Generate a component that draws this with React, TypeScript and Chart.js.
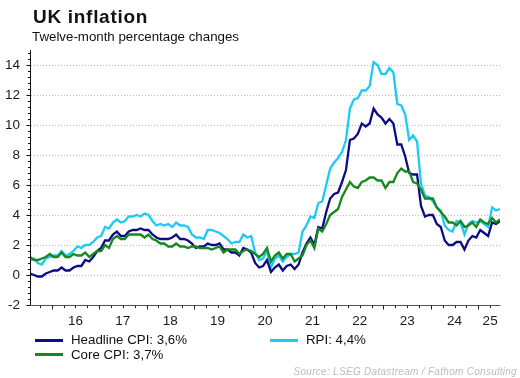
import React, { useEffect, useRef } from 'react';
import { Chart, registerables } from 'chart.js';

Chart.register(...registerables);

const FONT = '"Liberation Sans", Arial, Helvetica, sans-serif';

// Monthly data, July 2015 .. June 2025 (twelve-month % change)
const startYear = 2015;
const startMonth = 7;

const headlineCpi = [
  0.1, 0.0, -0.1, -0.1, 0.1, 0.2,
  0.3, 0.3, 0.5, 0.3, 0.3, 0.5, 0.6, 0.6, 1.0, 0.9, 1.2, 1.6,
  1.8, 2.3, 2.3, 2.7, 2.9, 2.6, 2.6, 2.9, 3.0, 3.0, 3.1, 3.0,
  3.0, 2.7, 2.5, 2.4, 2.4, 2.4, 2.5, 2.7, 2.4, 2.4, 2.3, 2.1,
  1.8, 1.9, 1.9, 2.1, 2.0, 2.0, 2.1, 1.7, 1.7, 1.5, 1.5, 1.3,
  1.8, 1.7, 1.5, 0.8, 0.5, 0.6, 1.0, 0.2, 0.5, 0.7, 0.3, 0.6,
  0.7, 0.4, 0.7, 1.5, 2.1, 2.5, 2.0, 3.2, 3.1, 4.2, 5.1, 5.4,
  5.5, 6.2, 7.0, 9.0, 9.1, 9.4, 10.1, 9.9, 10.1, 11.1, 10.7, 10.5,
  10.1, 10.4, 10.1, 8.7, 8.7, 7.9, 6.8, 6.7, 6.7, 4.6, 3.9, 4.0,
  4.0, 3.4, 3.2, 2.3, 2.0, 2.0, 2.2, 2.2, 1.7, 2.3, 2.6, 2.5,
  3.0, 2.8, 2.6, 3.5, 3.4, 3.6,
];

const rpi = [
  1.0, 1.1, 0.8, 0.7, 1.1, 1.2,
  1.3, 1.3, 1.6, 1.3, 1.4, 1.6, 1.9, 1.8, 2.0, 2.0, 2.2, 2.5,
  2.6, 3.2, 3.1, 3.5, 3.7, 3.5, 3.6, 3.9, 3.9, 4.0, 3.9, 4.1,
  4.0, 3.6, 3.3, 3.4, 3.3, 3.4, 3.2, 3.5, 3.3, 3.3, 3.2, 2.7,
  2.5, 2.5, 2.4, 3.0, 3.0, 2.9, 2.8, 2.6, 2.4, 2.1, 2.2, 2.2,
  2.7, 2.5, 2.6, 1.5, 1.0, 1.1, 1.6, 0.5, 1.1, 1.3, 0.9, 1.2,
  1.4, 1.4, 1.5, 2.9, 3.3, 3.9, 3.8, 4.8, 4.9, 6.0, 7.1, 7.5,
  7.8, 8.2, 9.0, 11.1, 11.7, 11.8, 12.3, 12.3, 12.6, 14.2, 14.0, 13.4,
  13.4, 13.8, 13.5, 11.4, 11.3, 10.7, 9.0, 9.3, 8.9, 6.1, 5.3, 5.2,
  4.9, 4.5, 4.3, 3.3, 3.0, 2.9, 3.6, 3.5, 2.7, 3.4, 3.6, 3.5,
  3.6, 3.4, 3.2, 4.5, 4.3, 4.4,
];

const coreCpi = [
  1.2, 1.0, 1.0, 1.1, 1.2, 1.4,
  1.2, 1.2, 1.5, 1.2, 1.2, 1.4, 1.3, 1.3, 1.5, 1.2, 1.4, 1.6,
  1.6, 2.0, 1.8, 2.4, 2.6, 2.4, 2.4, 2.7, 2.7, 2.7, 2.7, 2.5,
  2.7, 2.4, 2.3, 2.1, 2.1, 1.9, 1.9, 2.1, 1.9, 1.9, 1.8, 1.9,
  1.9, 1.8, 1.8, 1.8, 1.7, 1.8, 1.9, 1.5, 1.7, 1.7, 1.7, 1.4,
  1.6, 1.7, 1.6, 1.4, 1.2, 1.4, 1.8, 0.9, 1.3, 1.5, 1.1, 1.4,
  1.4, 0.9, 1.1, 1.3, 2.0, 2.3, 1.8, 3.1, 2.9, 3.4, 4.0, 4.2,
  4.4, 5.2, 5.7, 6.2, 5.9, 5.8, 6.2, 6.3, 6.5, 6.5, 6.3, 6.3,
  5.8, 6.2, 6.2, 6.8, 7.1, 6.9, 6.9, 6.2, 6.1, 5.7, 5.1, 5.1,
  5.1, 4.5, 4.2, 3.9, 3.5, 3.5, 3.3, 3.6, 3.2, 3.3, 3.5, 3.2,
  3.7, 3.5, 3.4, 3.8, 3.5, 3.7,
];

const yearLabels = ['16', '17', '18', '19', '20', '21', '22', '23', '24', '25'];
const yTickValues = [-2, 0, 2, 4, 6, 8, 10, 12, 14];
const yMin = -2;
const yMax = 15;

const legendItems = [
  { label: 'Headline CPI: 3,6%', color: '#0c0c84' },
  { label: 'RPI: 4,4%', color: '#1dcaf6' },
  { label: 'Core CPI: 3,7%', color: '#17881b' },
];

const nMonths = headlineCpi.length;
const yearOf = (i: number) => startYear + Math.floor((startMonth - 1 + i) / 12);
const monthOf = (i: number) => ((startMonth - 1 + i) % 12) + 1;

const yearLabelPositions = yearLabels.map((lab) => {
  const yr = 2000 + parseInt(lab, 10);
  const idx: number[] = [];
  for (let i = 0; i < nMonths; i++) if (yearOf(i) === yr) idx.push(i);
  return (idx[0] + idx[idx.length - 1]) / 2;
});

const toPts = (arr: number[]) => arr.map((v, i) => ({ x: i, y: v }));

const decoPlugin = {
  id: 'decoAxes',
  beforeDatasetsDraw(chart: any) {
    const { ctx, chartArea, scales } = chart;
    const y = scales.y;
    ctx.save();
    ctx.strokeStyle = '#b9b9b9';
    ctx.lineWidth = 1;
    ctx.setLineDash([1, 2]);
    for (const v of yTickValues) {
      if (v === yMin) continue;
      const py = Math.round(y.getPixelForValue(v)) + 0.5;
      ctx.beginPath();
      ctx.moveTo(chartArea.left + 1, py);
      ctx.lineTo(chartArea.right, py);
      ctx.stroke();
    }
    ctx.restore();
  },
  afterDatasetsDraw(chart: any) {
    const { ctx, chartArea, scales } = chart;
    const x = scales.x;
    const y = scales.y;
    const ax = Math.round(chartArea.left) + 0.5;
    const ay = Math.round(y.getPixelForValue(yMin)) + 0.5;
    ctx.save();
    ctx.setLineDash([]);
    ctx.lineWidth = 1;
    ctx.strokeStyle = '#111';
    ctx.beginPath();
    ctx.moveTo(ax, Math.round(y.getPixelForValue(yMax)));
    ctx.lineTo(ax, ay);
    ctx.stroke();
    for (let k = 0; ; k++) {
      const v = yMin + k * 0.4;
      if (v > yMax + 1e-6) break;
      const isMajor = Math.abs(v - Math.round(v)) < 1e-6 && Math.round(v) % 2 === 0;
      const py = Math.round(y.getPixelForValue(v)) + 0.5;
      ctx.beginPath();
      ctx.moveTo(ax - (isMajor ? 4 : 2.5), py);
      ctx.lineTo(ax, py);
      ctx.stroke();
    }
    ctx.strokeStyle = '#555';
    ctx.beginPath();
    ctx.moveTo(ax, ay);
    ctx.lineTo(Math.round(chartArea.right) + 0.5, ay);
    ctx.stroke();
    ctx.strokeStyle = '#222';
    for (let i = 1; i < nMonths; i++) {
      const m = monthOf(i);
      if (m !== 1 && m !== 4 && m !== 7 && m !== 10) continue;
      const isMajor = m === 1;
      const px = Math.round(x.getPixelForValue(i - 0.5)) + 0.5;
      ctx.beginPath();
      ctx.moveTo(px, ay);
      ctx.lineTo(px, ay + (isMajor ? 4 : 2.5));
      ctx.stroke();
    }
    ctx.restore();
  },
};

export default function App() {
  const ref = useRef<HTMLCanvasElement>(null);

  useEffect(() => {
    const chart = new Chart(ref.current as HTMLCanvasElement, {
      type: 'line',
      data: {
        datasets: [
          {
            label: legendItems[1].label,
            data: toPts(rpi),
            borderColor: legendItems[1].color,
            borderWidth: 2.3,
            pointRadius: 0,
            tension: 0,
            order: 3,
          },
          {
            label: legendItems[0].label,
            data: toPts(headlineCpi),
            borderColor: legendItems[0].color,
            borderWidth: 2.3,
            pointRadius: 0,
            tension: 0,
            order: 2,
          },
          {
            label: legendItems[2].label,
            data: toPts(coreCpi),
            borderColor: legendItems[2].color,
            borderWidth: 2.3,
            pointRadius: 0,
            tension: 0,
            order: 1,
          },
        ],
      },
      options: {
        responsive: false,
        devicePixelRatio: 1,
        animation: false,
        layout: { padding: { left: 0, right: 20, top: 50, bottom: 43 } },
        plugins: {
          legend: { display: false },
          tooltip: { enabled: false },
          title: { display: false },
        },
        scales: {
          x: {
            type: 'linear',
            min: 0,
            max: nMonths - 1,
            grid: { display: false },
            border: { display: false },
            afterFit: (s: any) => {
              s.height = 30;
            },
            afterBuildTicks: (s: any) => {
              s.ticks = yearLabelPositions.map((v) => ({ value: v }));
            },
            ticks: {
              autoSkip: false,
              maxRotation: 0,
              minRotation: 0,
              padding: 0,
              color: '#1a1a1a',
              font: { family: FONT, size: 13.5 },
              callback: (_v: any, idx: number) => yearLabels[idx],
            },
          },
          y: {
            type: 'linear',
            min: yMin,
            max: yMax,
            grid: { display: false },
            border: { display: false },
            afterFit: (s: any) => {
              s.width = 30;
            },
            afterBuildTicks: (s: any) => {
              s.ticks = yTickValues.map((v) => ({ value: v }));
            },
            ticks: {
              padding: 2,
              color: '#1a1a1a',
              font: { family: FONT, size: 13.5 },
              callback: (v: any) => String(v),
            },
          },
        },
      },
      plugins: [decoPlugin],
    });
    return () => chart.destroy();
  }, []);

  const textBase: React.CSSProperties = {
    position: 'absolute',
    whiteSpace: 'nowrap',
    lineHeight: 1,
    fontFamily: FONT,
    color: '#111',
  };

  return (
    <div
      style={{
        position: 'absolute',
        left: 0,
        top: 0,
        width: 520,
        height: 378,
        background: '#fff',
        overflow: 'hidden',
      }}
    >
      <canvas
        ref={ref}
        width={520}
        height={378}
        style={{ position: 'absolute', left: 0, top: 0, width: 520, height: 378 }}
      />
      <div style={{ ...textBase, left: 33, top: 7, fontSize: 19, fontWeight: 700, letterSpacing: 0.7 }}>
        UK inflation
      </div>
      <div style={{ ...textBase, left: 32, top: 29.5, fontSize: 13.3 }}>Twelve-month percentage changes</div>

      <div style={{ position: 'absolute', left: 35, top: 339, width: 28, height: 2.5, background: legendItems[0].color }} />
      <div style={{ ...textBase, left: 71, top: 332.7, fontSize: 13.3 }}>{legendItems[0].label}</div>
      <div style={{ position: 'absolute', left: 270, top: 339, width: 28, height: 2.5, background: legendItems[1].color }} />
      <div style={{ ...textBase, left: 306, top: 332.7, fontSize: 13.3 }}>{legendItems[1].label}</div>
      <div style={{ position: 'absolute', left: 35, top: 353, width: 28, height: 2.5, background: legendItems[2].color }} />
      <div style={{ ...textBase, left: 71, top: 348, fontSize: 13.3 }}>{legendItems[2].label}</div>

      <div
        style={{
          ...textBase,
          right: 3,
          top: 366.5,
          fontSize: 10,
          fontStyle: 'italic',
          letterSpacing: 0.3,
          color: '#bcbcbc',
        }}
      >
        Source: LSEG Datastream / Fathom Consulting
      </div>
    </div>
  );
}
